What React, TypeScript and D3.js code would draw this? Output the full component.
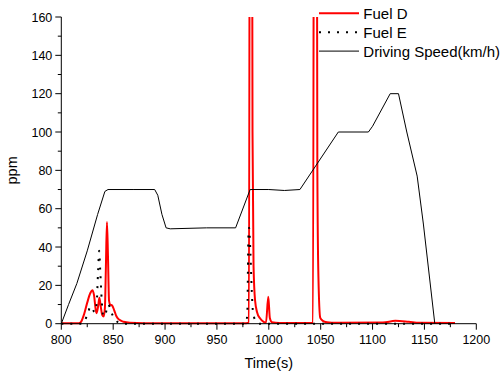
import React from "react";
import * as d3 from "d3";

const W = 503;
const H = 374;
const M = { left: 61.3, right: 476.3, top: 17, bottom: 323.7 };

const xTicks = [800, 850, 900, 950, 1000, 1050, 1100, 1150, 1200];
const yTicks = [0, 20, 40, 60, 80, 100, 120, 140, 160];

// Fuel D (ppm): [time, value]
const fuelD: [number, number][] = [
  [800, 0.3], [817, 0.3], [819, 1], [822, 5], [825, 11], [828, 16], [830, 17.5], [831.5, 15],
  [833, 8], [834, 5.5], [835.5, 9], [836.7, 13.5], [838, 9], [839.5, 4.5], [840.8, 3.8],
  [842, 8], [843, 30], [844, 53], [845, 35], [846, 12], [847, 10], [849, 9.5], [851, 7],
  [853, 4], [856, 2], [860, 1], [866, 0.5], [880, 0.3], [978, 0.3], [980.8, 0.5],
  [982.1, 400], [983.3, 400], [984.3, 100], [985.3, 30], [986.8, 12], [988.7, 6], [991.5, 2.8],
  [995, 1], [997.3, 0.6], [999.5, 14], [1001, 3], [1003, 0.8], [1010, 0.4], [1042.6, 0.4],
  [1043.9, 400], [1045.8, 400], [1046.8, 80], [1047.8, 25], [1049.6, 3], [1052, 1.5],
  [1056, 0.8], [1065, 0.5], [1110, 0.6], [1122, 1.5], [1135, 1], [1145, 0.5], [1179.5, 0.4],
];

// Fuel E (ppm)
const fuelE: [number, number][] = [
  [800, 0], [820, 0], [823, 2], [826, 6], [828, 9], [830, 8], [832, 6], [834, 10],
  [835.5, 28], [836.5, 38], [837.5, 28], [839, 12], [840.5, 4], [842, 4], [844, 8],
  [845.5, 10], [847, 8], [849, 5], [852, 2], [856, 0.5], [860, 0], [977.8, 0], [979.3, 5],
  [980.3, 45], [981, 50], [982.2, 38], [983.6, 17], [984.6, 7], [986, 3], [988, 1],
  [991, 0], [1179.5, 0],
];

// Driving speed (km/h)
const speed: [number, number][] = [
  [800, 0], [807, 10], [815, 21], [825, 38], [835, 57], [842, 69], [845, 70], [870, 70],
  [890, 70], [893, 67], [897, 57], [901, 50], [905, 49.5], [940, 50], [968, 50], [982, 70],
  [1000, 70], [1015, 69.5], [1030, 70], [1067, 100], [1096, 100], [1100, 103], [1117, 120],
  [1125, 120], [1133, 100], [1143, 77], [1149, 52], [1160, 0],
];

const legendItems = [
  { label: "Fuel D", color: "#ff0000", width: 2, dash: "" },
  { label: "Fuel E", color: "#000000", width: 2, dash: "2 7" },
  { label: "Driving Speed(km/h)", color: "#000000", width: 1, dash: "" },
];

export default function App() {
  const x = d3.scaleLinear().domain([800, 1200]).range([M.left, M.right]);
  const y = d3.scaleLinear().domain([0, 160]).range([M.bottom, M.top]);
  const line = d3
    .line<[number, number]>()
    .x((d) => x(d[0]))
    .y((d) => y(d[1]))
    .curve(d3.curveMonotoneX);
  const lineLin = d3
    .line<[number, number]>()
    .x((d) => x(d[0]))
    .y((d) => y(d[1]));

  const xMinor = d3.range(825, 1200, 50);
  const yMinor = d3.range(10, 160, 20);
  const font = "'Liberation Sans', Arial, sans-serif";

  return (
    <svg
      width={W}
      height={H}
      style={{ position: "absolute", left: 0, top: 0, background: "#fff" }}
      fontFamily={font}
    >
      <defs>
        <clipPath id="plot">
          <rect x={M.left} y={M.top} width={M.right - M.left} height={M.bottom - M.top + 2} />
        </clipPath>
      </defs>
      <g clipPath="url(#plot)">
        <path d={line(fuelD) || ""} fill="none" stroke="#ff0000" strokeWidth={2} />
        <path d={line(fuelE) || ""} fill="none" stroke="#000" strokeWidth={2} strokeDasharray="2 7" />
        <path d={lineLin(speed) || ""} fill="none" stroke="#000" strokeWidth={1} />
      </g>
      {/* axes */}
      <line x1={M.left} x2={M.left} y1={M.top} y2={M.bottom} stroke="#000" strokeWidth={1} />
      <line x1={M.left} x2={M.right} y1={M.bottom} y2={M.bottom} stroke="#000" strokeWidth={1} />
      {yTicks.map((t) => (
        <g key={"y" + t}>
          <line x1={M.left - 6} x2={M.left} y1={y(t)} y2={y(t)} stroke="#000" />
          <text x={M.left - 9} y={y(t)} dy="0.36em" textAnchor="end" fontSize={12.5}>
            {t}
          </text>
        </g>
      ))}
      {yMinor.map((t) => (
        <line key={"ym" + t} x1={M.left - 3.5} x2={M.left} y1={y(t)} y2={y(t)} stroke="#000" />
      ))}
      {xTicks.map((t) => (
        <g key={"x" + t}>
          <line x1={x(t)} x2={x(t)} y1={M.bottom} y2={M.bottom + 6} stroke="#000" />
          <text x={x(t)} y={M.bottom + 20.5} textAnchor="middle" fontSize={12.5}>
            {t}
          </text>
        </g>
      ))}
      {xMinor.map((t) => (
        <line key={"xm" + t} x1={x(t)} x2={x(t)} y1={M.bottom} y2={M.bottom + 3.5} stroke="#000" />
      ))}
      <text x={(M.left + M.right) / 2} y={368} textAnchor="middle" fontSize={14.5}>
        Time(s)
      </text>
      <text
        transform={`translate(17, ${(M.top + M.bottom) / 2}) rotate(-90)`}
        textAnchor="middle"
        fontSize={14.5}
      >
        ppm
      </text>
      {/* legend */}
      {legendItems.map((it, i) => {
        const ly = 13.3 + i * 18.9;
        return (
          <g key={it.label}>
            <line
              x1={319}
              x2={359}
              y1={ly}
              y2={ly}
              stroke={it.color}
              strokeWidth={it.width}
              strokeDasharray={it.dash || undefined}
            />
            <text x={363.3} y={ly} dy="0.36em" fontSize={15}>
              {it.label}
            </text>
          </g>
        );
      })}
    </svg>
  );
}
